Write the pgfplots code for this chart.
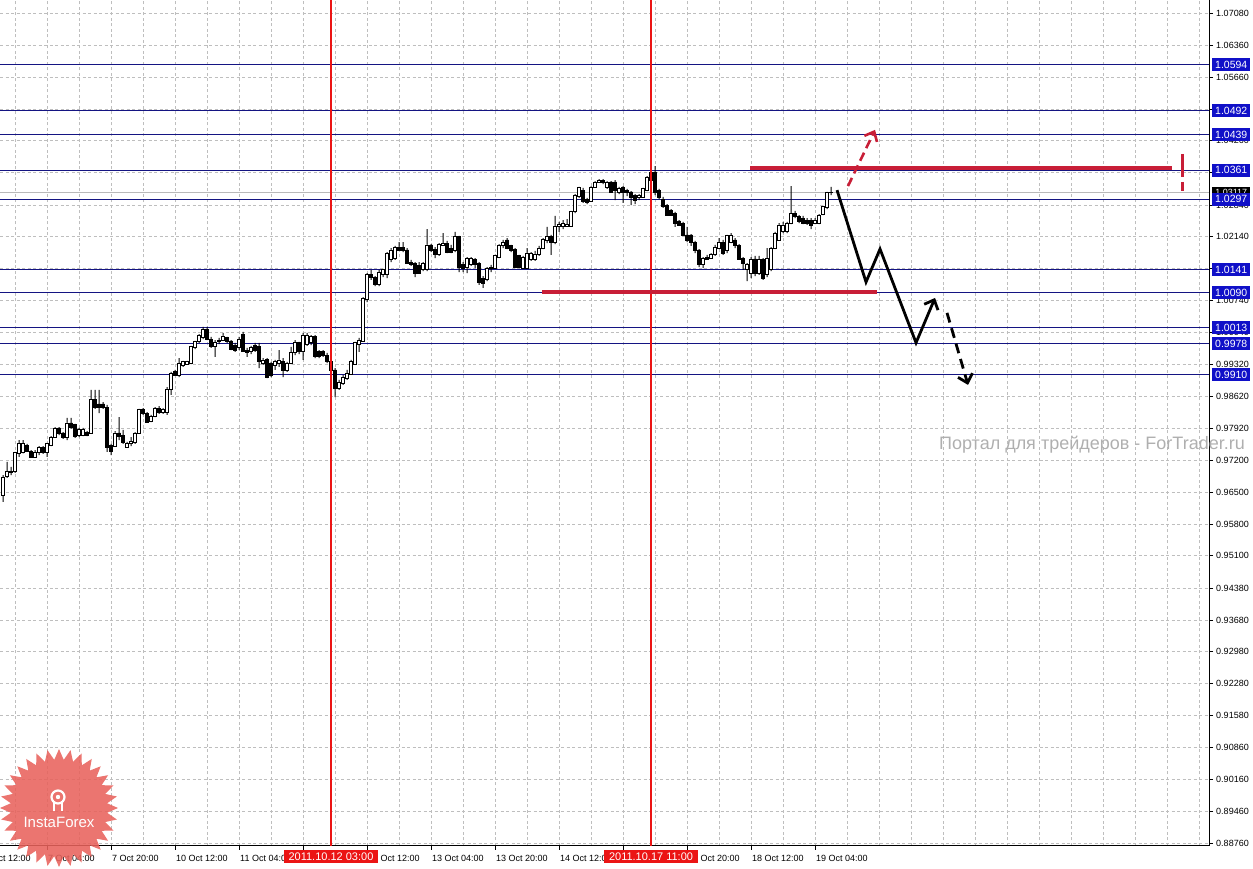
\documentclass[border=0pt]{standalone}
\usepackage{fontspec}
\setmainfont{Liberation Sans}
\usepackage{pgfplots}
\pgfplotsset{compat=1.18}
\usepackage{pgfplotstable}
\usetikzlibrary{arrows.meta,shapes.geometric}

\definecolor{lvl}{RGB}{20,20,130}
\definecolor{lvlbox}{RGB}{16,16,200}
\definecolor{mtred}{RGB}{200,30,55}
\definecolor{vred}{RGB}{235,20,20}
\definecolor{gridc}{RGB}{190,190,190}
\definecolor{curline}{RGB}{185,185,185}
\definecolor{logo}{RGB}{232,98,92}
\definecolor{wm}{RGB}{175,175,175}

% EURUSD-style hourly candles: bar index, open, high, low, close
\pgfplotstableread{
k o h l c
0 0.9644 0.9688 0.9629 0.9682
1 0.9684 0.9717 0.9682 0.9695
2 0.9695 0.9706 0.9688 0.9693
3 0.9695 0.9739 0.9693 0.9737
4 0.9735 0.9765 0.9728 0.9757
5 0.9737 0.9765 0.9736 0.9757
6 0.9754 0.9757 0.9739 0.9741
7 0.9741 0.9743 0.9726 0.9728
8 0.9728 0.9743 0.9726 0.9737
9 0.9737 0.9752 0.9732 0.9748
10 0.9748 0.9752 0.9735 0.9737
11 0.9737 0.9759 0.9728 0.9757
12 0.9754 0.9774 0.9752 0.9772
13 0.9772 0.9794 0.9770 0.9792
14 0.9792 0.9794 0.9776 0.9781
15 0.9781 0.9783 0.9768 0.9772
16 0.9772 0.9814 0.9765 0.9803
17 0.9803 0.9814 0.9790 0.9794
18 0.9799 0.9801 0.9770 0.9774
19 0.9776 0.9792 0.9772 0.9788
20 0.9776 0.9792 0.9774 0.9788
21 0.9783 0.9785 0.9774 0.9776
22 0.9781 0.9876 0.9779 0.9854
23 0.9854 0.9876 0.9834 0.9838
24 0.9845 0.9876 0.9825 0.9838
25 0.9845 0.9849 0.9834 0.9838
26 0.9838 0.9843 0.9739 0.9750
27 0.9754 0.9757 0.9732 0.9741
28 0.9752 0.9785 0.9750 0.9781
29 0.9781 0.9816 0.9765 0.9774
30 0.9776 0.9788 0.9757 0.9761
31 0.9750 0.9761 0.9748 0.9757
32 0.9757 0.9772 0.9752 0.9763
33 0.9761 0.9783 0.9757 0.9781
34 0.9781 0.9834 0.9779 0.9832
35 0.9832 0.9836 0.9821 0.9825
36 0.9825 0.9827 0.9803 0.9805
37 0.9807 0.9821 0.9805 0.9818
38 0.9818 0.9838 0.9816 0.9836
39 0.9836 0.9840 0.9823 0.9827
40 0.9827 0.9836 0.9823 0.9834
41 0.9827 0.9882 0.9821 0.9876
42 0.9876 0.9916 0.9865 0.9913
43 0.9916 0.9920 0.9907 0.9909
44 0.9907 0.9946 0.9904 0.9935
45 0.9931 0.9940 0.9927 0.9938
46 0.9933 0.9940 0.9931 0.9938
47 0.9935 0.9973 0.9933 0.9971
48 0.9969 0.9984 0.9966 0.9982
49 0.9982 0.9999 0.9980 0.9997
50 0.9991 1.0015 0.9988 1.0010
51 1.0010 1.0015 0.9986 0.9988
52 0.9988 0.9993 0.9969 0.9973
53 0.9971 0.9986 0.9949 0.9980
54 0.9982 0.9991 0.9977 0.9986
55 0.9986 1.0002 0.9984 0.9995
56 0.9991 0.9993 0.9980 0.9982
57 0.9984 0.9986 0.9964 0.9966
58 0.9975 0.9980 0.9960 0.9964
59 0.9969 0.9993 0.9964 0.9988
60 0.9999 1.0004 0.9960 0.9962
61 0.9964 0.9969 0.9949 0.9958
62 0.9960 0.9973 0.9955 0.9969
63 0.9975 0.9980 0.9960 0.9964
64 0.9971 0.9980 0.9924 0.9938
65 0.9935 0.9946 0.9931 0.9942
66 0.9944 0.9946 0.9902 0.9904
67 0.9935 0.9938 0.9904 0.9909
68 0.9929 0.9942 0.9920 0.9938
69 0.9935 0.9964 0.9927 0.9942
70 0.9938 0.9946 0.9904 0.9920
71 0.9920 0.9938 0.9916 0.9935
72 0.9935 0.9971 0.9933 0.9958
73 0.9958 0.9986 0.9953 0.9980
74 0.9980 0.9982 0.9955 0.9960
75 0.9962 1.0002 0.9942 0.9997
76 0.9977 1.0002 0.9973 0.9997
77 0.9980 0.9997 0.9975 0.9993
78 0.9993 0.9997 0.9946 0.9949
79 0.9960 0.9964 0.9946 0.9949
80 0.9960 0.9964 0.9949 0.9953
81 0.9953 0.9958 0.9935 0.9938
82 0.9938 0.9940 0.9918 0.9920
83 0.9920 0.9924 0.9860 0.9880
84 0.9880 0.9898 0.9876 0.9893
85 0.9891 0.9909 0.9887 0.9904
86 0.9902 0.9920 0.9898 0.9913
87 0.9911 0.9942 0.9909 0.9938
88 0.9933 0.9982 0.9931 0.9980
89 0.9977 0.9991 0.9960 0.9986
90 0.9984 1.0081 0.9982 1.0079
91 1.0075 1.0134 1.0070 1.0130
92 1.0130 1.0141 1.0119 1.0125
93 1.0125 1.0127 1.0105 1.0108
94 1.0108 1.0141 1.0105 1.0136
95 1.0130 1.0143 1.0125 1.0141
96 1.0130 1.0180 1.0123 1.0178
97 1.0163 1.0189 1.0158 1.0185
98 1.0167 1.0194 1.0163 1.0191
99 1.0191 1.0202 1.0183 1.0185
100 1.0191 1.0202 1.0180 1.0183
101 1.0185 1.0189 1.0154 1.0156
102 1.0158 1.0163 1.0150 1.0152
103 1.0156 1.0158 1.0125 1.0134
104 1.0150 1.0158 1.0132 1.0134
105 1.0141 1.0158 1.0138 1.0156
106 1.0141 1.0231 1.0138 1.0196
107 1.0196 1.0198 1.0180 1.0185
108 1.0187 1.0191 1.0167 1.0174
109 1.0174 1.0200 1.0172 1.0198
110 1.0196 1.0222 1.0194 1.0200
111 1.0200 1.0205 1.0178 1.0180
112 1.0189 1.0196 1.0178 1.0180
113 1.0183 1.0225 1.0180 1.0214
114 1.0214 1.0216 1.0136 1.0147
115 1.0152 1.0158 1.0136 1.0145
116 1.0147 1.0169 1.0134 1.0167
117 1.0152 1.0169 1.0150 1.0167
118 1.0163 1.0167 1.0145 1.0152
119 1.0156 1.0158 1.0108 1.0114
120 1.0123 1.0127 1.0101 1.0112
121 1.0119 1.0147 1.0116 1.0145
122 1.0145 1.0152 1.0136 1.0147
123 1.0145 1.0174 1.0143 1.0172
124 1.0169 1.0198 1.0167 1.0196
125 1.0194 1.0207 1.0189 1.0202
126 1.0207 1.0211 1.0187 1.0189
127 1.0194 1.0196 1.0180 1.0183
128 1.0187 1.0189 1.0145 1.0147
129 1.0172 1.0174 1.0145 1.0147
130 1.0145 1.0172 1.0143 1.0169
131 1.0145 1.0189 1.0143 1.0178
132 1.0163 1.0180 1.0161 1.0178
133 1.0165 1.0183 1.0161 1.0176
134 1.0174 1.0194 1.0172 1.0189
135 1.0189 1.0211 1.0187 1.0209
136 1.0207 1.0236 1.0200 1.0214
137 1.0214 1.0218 1.0174 1.0202
138 1.0202 1.0260 1.0198 1.0238
139 1.0236 1.0247 1.0225 1.0242
140 1.0238 1.0251 1.0231 1.0244
141 1.0238 1.0253 1.0236 1.0242
142 1.0238 1.0271 1.0236 1.0269
143 1.0269 1.0308 1.0266 1.0306
144 1.0304 1.0324 1.0300 1.0322
145 1.0317 1.0322 1.0289 1.0293
146 1.0297 1.0300 1.0286 1.0289
147 1.0293 1.0326 1.0291 1.0324
148 1.0324 1.0337 1.0322 1.0335
149 1.0335 1.0341 1.0333 1.0339
150 1.0339 1.0341 1.0330 1.0333
151 1.0322 1.0337 1.0320 1.0335
152 1.0335 1.0337 1.0311 1.0313
153 1.0335 1.0339 1.0295 1.0317
154 1.0313 1.0324 1.0308 1.0320
155 1.0322 1.0326 1.0289 1.0311
156 1.0317 1.0320 1.0304 1.0311
157 1.0313 1.0315 1.0284 1.0300
158 1.0306 1.0308 1.0286 1.0295
159 1.0300 1.0308 1.0295 1.0306
160 1.0302 1.0322 1.0300 1.0320
161 1.0317 1.0348 1.0315 1.0344
162 1.0339 1.0366 1.0335 1.0357
163 1.0357 1.0370 1.0306 1.0313
164 1.0317 1.0320 1.0297 1.0302
165 1.0297 1.0302 1.0278 1.0280
166 1.0284 1.0286 1.0260 1.0262
167 1.0273 1.0275 1.0260 1.0262
168 1.0266 1.0269 1.0236 1.0244
169 1.0249 1.0251 1.0238 1.0240
170 1.0244 1.0247 1.0216 1.0218
171 1.0218 1.0236 1.0202 1.0207
172 1.0218 1.0220 1.0194 1.0202
173 1.0202 1.0205 1.0178 1.0185
174 1.0185 1.0187 1.0147 1.0152
175 1.0152 1.0169 1.0145 1.0167
176 1.0169 1.0174 1.0163 1.0165
177 1.0167 1.0178 1.0165 1.0176
178 1.0174 1.0196 1.0172 1.0191
179 1.0189 1.0211 1.0187 1.0202
180 1.0202 1.0207 1.0174 1.0178
181 1.0183 1.0218 1.0178 1.0216
182 1.0202 1.0222 1.0200 1.0216
183 1.0207 1.0211 1.0189 1.0194
184 1.0194 1.0198 1.0163 1.0165
185 1.0167 1.0169 1.0141 1.0156
186 1.0141 1.0156 1.0116 1.0152
187 1.0134 1.0169 1.0123 1.0163
188 1.0165 1.0172 1.0127 1.0134
189 1.0134 1.0172 1.0130 1.0163
190 1.0163 1.0167 1.0119 1.0123
191 1.0130 1.0189 1.0125 1.0167
192 1.0141 1.0191 1.0138 1.0189
193 1.0189 1.0225 1.0187 1.0222
194 1.0207 1.0244 1.0205 1.0240
195 1.0225 1.0247 1.0222 1.0240
196 1.0225 1.0247 1.0222 1.0244
197 1.0244 1.0326 1.0242 1.0266
198 1.0266 1.0271 1.0255 1.0258
199 1.0258 1.0262 1.0244 1.0247
200 1.0255 1.0260 1.0242 1.0244
201 1.0251 1.0255 1.0240 1.0244
202 1.0251 1.0255 1.0231 1.0240
203 1.0244 1.0255 1.0242 1.0251
204 1.0244 1.0264 1.0242 1.0262
205 1.0264 1.0282 1.0262 1.0280
206 1.0278 1.0313 1.0275 1.0311
207 1.0311 1.0324 1.0306 1.0312
}\candles

\pgfplotsset{chartbox/.style={
    at={(0pt,23pt)}, anchor=south west, scale only axis,
    width=1209pt, height=846pt,
    xmin=-0.75, xmax=301.5, ymin=0.88692, ymax=1.07367,
  },
  lvlline/.style={draw=lvl, line width=1pt},
}
\tikzset{
  lvltag/.style={fill=lvlbox, text=white, anchor=west, xshift=3pt,
    minimum width=38pt, minimum height=13pt, inner sep=0pt,
    font=\fontsize{10.5}{11}\selectfont},
  datetag/.style={fill=vred, text=white, inner sep=0pt,
    minimum width=94pt, minimum height=13pt,
    font=\fontsize{11}{11}\selectfont},
}

\begin{document}
\begin{tikzpicture}
\useasboundingbox (0pt,0pt) rectangle (1253pt,869pt);

% grid, scales and levels
\begin{axis}[chartbox,
    axis x line*=bottom, axis y line*=right,
    axis line style={black, line width=1pt},
    tick align=outside, major tick length=4pt, minor tick length=0pt,
    tick style={black, line width=0.8pt},
    xtick={11,27,...,203},
    xticklabels={7 Oct 04:00, 7 Oct 20:00, 10 Oct 12:00, 11 Oct 04:00,
      11 Oct 20:00, 12 Oct 12:00, 13 Oct 04:00, 13 Oct 20:00,
      14 Oct 12:00, 17 Oct 04:00, 17 Oct 20:00, 18 Oct 12:00, 19 Oct 04:00},
    minor xtick={3,19,35,51,67,83,99,115,131,147,163,179,195,211,227,243,
      259,275,291,219,235,251,267,283,299},
    ytick={1.0708,1.0636,1.0566,1.0496,1.0426,1.0356,1.0284,1.0214,1.0144,
      1.0074,1.0004,0.9932,0.9862,0.9792,0.9720,0.9650,0.9580,0.9510,
      0.9438,0.9368,0.9298,0.9228,0.9158,0.9086,0.9016,0.8946,0.8876},
    yticklabels={1.07080,1.06360,1.05660,1.04960,1.04260,1.03560,1.02840,
      1.02140,1.01440,1.00740,1.00040,0.99320,0.98620,0.97920,0.97200,
      0.96500,0.95800,0.95100,0.94380,0.93680,0.92980,0.92280,0.91580,
      0.90860,0.90160,0.89460,0.88760},
    grid=both,
    grid style={gridc, dash pattern=on 3pt off 2.5pt, line width=0.7pt},
    minor grid style={gridc, dash pattern=on 3pt off 2.5pt, line width=0.7pt},
    xticklabel style={font=\fontsize{9}{10}\selectfont, anchor=base west,
      inner sep=0pt, xshift=1pt, yshift=-12pt},
    yticklabel style={font=\fontsize{9}{10}\selectfont, anchor=west,
      inner sep=0pt, xshift=3pt},
  ]
  \pgfplotsinvokeforeach{1.0594,1.0492,1.0439,1.0361,1.0297,1.0141,1.0090,
      1.0013,0.9978,0.9910}{
    \addplot[lvlline] coordinates {(-0.75,#1) (301.5,#1)};
  }
  \addplot[draw=curline, line width=1pt] coordinates {(-0.75,1.03117) (301.5,1.03117)};
\end{axis}

% candle wicks: invisible base up to the low, then low-to-high
\begin{axis}[chartbox, hide axis, ybar stacked, bar width=1pt]
  \addplot[draw=none, fill=none] table[x=k, y=l] {\candles};
  \addplot[draw=none, fill=black]
    table[x=k, y expr={\thisrow{h}-\thisrow{l}}] {\candles};
\end{axis}

% candle bodies
\begin{axis}[chartbox, hide axis, ybar stacked, bar width=3pt]
  \addplot[draw=none, fill=none]
    table[x=k, y expr={min(\thisrow{o},\thisrow{c})}] {\candles};
  \addplot[draw=black, fill=white, line width=0.8pt]
    table[x=k, y expr={max(\thisrow{c}-\thisrow{o},0)}] {\candles};
  \addplot[draw=black, fill=black, line width=0.8pt]
    table[x=k, y expr={max(\thisrow{o}-\thisrow{c},0)}] {\candles};
\end{axis}

% drawings on top
\begin{axis}[chartbox, hide axis, clip=false]
  \addplot[draw=vred, line width=1.4pt] coordinates {(82,0.88692) (82,1.07367)};
  \addplot[draw=vred, line width=1.4pt] coordinates {(162,0.88692) (162,1.07367)};
  \addplot[draw=mtred, line width=4pt] coordinates {(186.75,1.0366) (292.25,1.0366)};
  \addplot[draw=mtred, line width=4pt] coordinates {(134.75,1.0092) (218.5,1.0092)};
  \addplot[draw=mtred, line width=3pt] coordinates {(294.75,1.0397) (294.75,1.0346)};
  \addplot[draw=mtred, line width=3pt] coordinates {(294.75,1.0335) (294.75,1.0315)};
  \addplot[draw=mtred, line width=2.6pt, dash pattern=on 9pt off 5pt,
    -{Straight Barb[length=8pt, width=14pt, line width=2.6pt]}]
    coordinates {(211.25,1.0326) (218,1.0450)};
  \addplot[draw=black, line width=2.8pt,
    -{Straight Barb[length=8pt, width=15pt, line width=2.8pt]}]
    coordinates {(208.5,1.0317) (215.75,1.0114) (219.25,1.0187)
      (228.25,0.9980) (233,1.0079)};
  \addplot[draw=black, line width=2.8pt, dash pattern=on 10pt off 6pt,
    -{Straight Barb[length=8pt, width=15pt, line width=2.8pt]}]
    coordinates {(236,1.0046) (241.25,0.9887)};
  % price scale markers
  \node[fill=black, text=white, anchor=west, xshift=3pt, minimum width=38pt,
    minimum height=12pt, inner sep=0pt, font=\fontsize{9}{10}\selectfont]
    at (axis cs:301.5,1.03117) {1.03117};
  \pgfplotsinvokeforeach{1.0594,1.0492,1.0439,1.0361,1.0297,1.0141,1.0090,
      1.0013,0.9978,0.9910}{
    \node[lvltag] at (axis cs:301.5,#1) {#1};
  }
  % time scale markers
  \node[anchor=base west, inner sep=0pt, xshift=1pt, yshift=-16pt,
    font=\fontsize{9}{10}\selectfont] at (axis cs:-5,0.88692) {6 Oct 12:00};
  \node[datetag, yshift=-11pt] at (axis cs:82,0.88692) {2011.10.12 03:00};
  \node[datetag, yshift=-11pt] at (axis cs:162,0.88692) {2011.10.17 11:00};
\end{axis}

% watermark and logo
\node[anchor=east, text=wm, inner sep=0pt, font=\fontsize{18}{18}\selectfont]
  at (1245pt,424pt) {Портал для трейдеров - ForTrader.ru};
\node[star, star points=32, star point ratio=1.22, minimum size=118pt,
  inner sep=0pt, fill=logo, fill opacity=0.88] at (59pt,61pt) {};
\draw[white, line width=2.2pt] (58pt,72pt) circle (6.5pt);
\fill[white] (58pt,72pt) circle (2.2pt);
\draw[white, line width=2.4pt] (54pt,66pt) -- (54pt,58pt);
\draw[white, line width=2.4pt] (62pt,66pt) -- (62pt,58pt);
\node[text=white, inner sep=0pt, font=\fontsize{15}{15}\selectfont]
  at (59pt,47pt) {InstaForex};
\end{tikzpicture}
\end{document}
